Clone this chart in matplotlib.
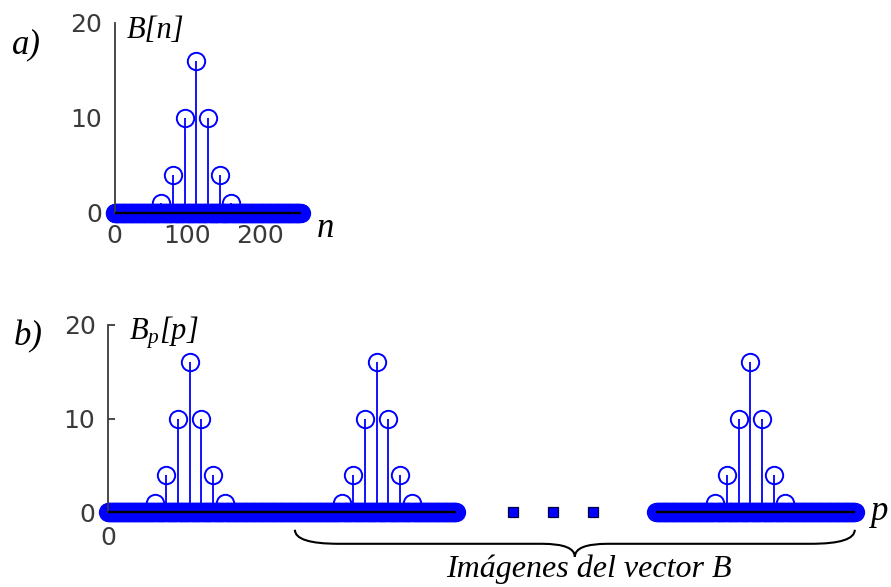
import numpy as np
import matplotlib
matplotlib.use("Agg")
import matplotlib.pyplot as plt
from matplotlib.path import Path
from matplotlib.patches import PathPatch

# ---- data -------------------------------------------------------------
N = 256                                   # length of vector B
peak_n = [64, 80, 96, 112, 128, 144, 160]  # non-zero samples of B
peak_vals = [1, 4, 10, 16, 10, 4, 1]
n_periods = 4                             # periods shown for Bp
hidden_span = (478, 750)                  # stretch of Bp left out (shown as dots)
ellipsis_p = [555, 610, 664]
brace_span = (256, 1023)                  # the images of B inside Bp
yticks = [0, 10, 20]
xticks_a = [0, 100, 200]
xticks_b = [0]

B = np.zeros(N)
B[peak_n] = peak_vals
n = np.arange(N)
p = np.arange(N * n_periods)
Bp = np.tile(B, n_periods)

BLUE = "#0000ff"
AXC = "#3a3a3a"
TICKFONT = ["Liberation Sans Narrow", "DejaVu Sans"]

plt.rcParams["mathtext.fontset"] = "custom"
plt.rcParams["mathtext.it"] = "Liberation Serif:italic"
plt.rcParams["mathtext.rm"] = "Liberation Serif:italic"

fig = plt.figure(figsize=(8.91, 5.87), dpi=100)
W, H = 891.0, 587.0
px = 0.73  # pixels per sample
ax_a = fig.add_axes([114.5 / W, 1 - 213 / H, 255 * px / W, 190 / H])
ax_b = fig.add_axes([108 / W, 1 - 512 / H, 1023 * px / W, 187 / H])


def draw_stem(ax, x, y):
    ml, sl, bl = ax.stem(x, y)
    bl.set_visible(False)
    sl.set_color(BLUE)
    sl.set_linewidth(1.3)
    sl.set_clip_on(False)
    ml.set_markerfacecolor("none")
    ml.set_markeredgecolor(BLUE)
    ml.set_markeredgewidth(1.4)
    ml.set_markersize(12.5)
    ml.set_clip_on(False)
    ax.plot([x[0], x[-1]], [0, 0], color="black", lw=1.7, zorder=3,
            clip_on=False, solid_capstyle="butt")


def style_axes(ax):
    for s in ["top", "right", "bottom"]:
        ax.spines[s].set_visible(False)
    ax.spines["left"].set_color(AXC)
    ax.spines["left"].set_linewidth(1.3)
    ax.set_ylim(0, 20)
    ax.set_yticks(yticks)
    for lab in ax.get_xticklabels() + ax.get_yticklabels():
        lab.set_family(TICKFONT)
        lab.set_fontsize(18)
        lab.set_color(AXC)


# ---- a) B[n] ------------------------------------------------------------
draw_stem(ax_a, n, B)
ax_a.set_xlim(0, N - 1)
ax_a.set_xticks(xticks_a)
style_axes(ax_a)
ax_a.tick_params(axis="y", length=0, pad=9)
ax_a.tick_params(axis="x", length=0, pad=8)

# ---- b) Bp[p] -----------------------------------------------------------
keep_left = p < hidden_span[0]
keep_right = p > hidden_span[1]
draw_stem(ax_b, p[keep_left], Bp[keep_left])
draw_stem(ax_b, p[keep_right], Bp[keep_right])
ax_b.plot(ellipsis_p, [0] * len(ellipsis_p), "s", ms=7, mfc=BLUE,
          mec="#000040", mew=0.9, clip_on=False, zorder=4)
ax_b.set_xlim(0, N * n_periods - 1)
ax_b.set_xticks(xticks_b)
style_axes(ax_b)
ax_b.tick_params(axis="y", direction="in", length=5, width=1.3,
                 color=AXC, pad=9)
ax_b.tick_params(axis="x", length=0, pad=10)

# curly brace under the images of B
x0, x1 = brace_span
xm = (x0 + x1) / 2
ytop, ymid, ytip = -1.9, -3.4, -4.8
w, w2 = 60, 45
verts = [(x0, ytop), (x0, ymid), (x0 + w, ymid),
         (xm - w2, ymid),
         (xm, ymid), (xm, ytip),
         (xm, ymid), (xm + w2, ymid),
         (x1 - w, ymid),
         (x1, ymid), (x1, ytop)]
codes = [Path.MOVETO, Path.CURVE3, Path.CURVE3,
         Path.LINETO,
         Path.CURVE3, Path.CURVE3,
         Path.CURVE3, Path.CURVE3,
         Path.LINETO,
         Path.CURVE3, Path.CURVE3]
ax_b.add_patch(PathPatch(Path(verts, codes), fill=False, lw=1.5,
                         edgecolor="black", clip_on=False))

# ---- labels ------------------------------------------------------------
serif = dict(family="Liberation Serif", style="italic", color="black")
fig.text(26 / W, 1 - 45 / H, "a)", fontsize=25, ha="center", va="center", **serif)
fig.text(28 / W, 1 - 337 / H, "b)", fontsize=25, ha="center", va="center", **serif)
fig.text(156 / W, 1 - 30 / H, "B[n]", fontsize=22, ha="center", va="center", **serif)
fig.text(164 / W, 1 - 333 / H, r"$B_p[p]$", fontsize=22, ha="center", va="center")
fig.text(325 / W, 1 - 228 / H, "n", fontsize=25, ha="center", va="center", **serif)
fig.text(879 / W, 1 - 512 / H, "p", fontsize=25, ha="center", va="center", **serif)
fig.text(589 / W, 1 - 569 / H, "Imágenes del vector B", fontsize=23,
         ha="center", va="center", **serif)

fig.savefig("out.png", dpi=100)
